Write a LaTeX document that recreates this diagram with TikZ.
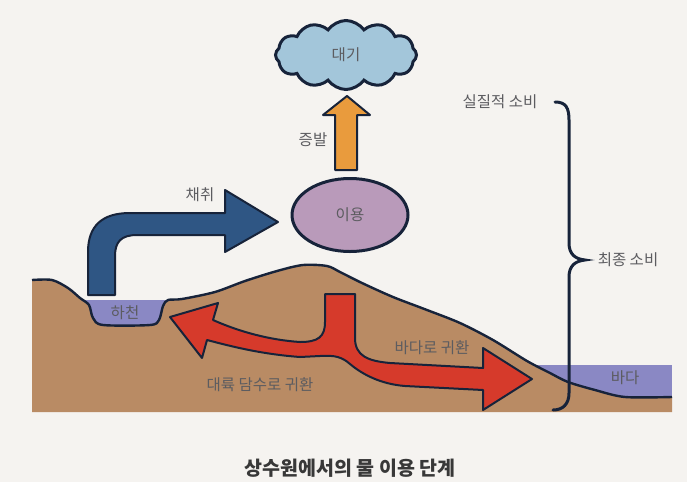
\documentclass[tikz,border=0pt]{standalone}
\usepackage{fontspec}
\setmainfont{Noto Sans CJK KR}
\usetikzlibrary{shapes.geometric,shapes.symbols}

\definecolor{paper}{HTML}{F5F3F0}
\definecolor{ink}{HTML}{17233A}
\definecolor{earth}{HTML}{B98B64}
\definecolor{water}{HTML}{8A88C4}
\definecolor{intakeblue}{HTML}{2F5684}
\definecolor{returnred}{HTML}{D63A2B}
\definecolor{vapor}{HTML}{E99B3D}
\definecolor{usemauve}{HTML}{B99ABA}
\definecolor{skyblue}{HTML}{A3C6DA}
\definecolor{labelgray}{HTML}{5C5C60}

\begin{document}
\begin{tikzpicture}[x=1pt,y=-1pt,
  edge/.style={draw=ink,line width=2pt,line join=round},
  lbl/.style={text=labelgray,font=\fontsize{15.5}{17}\selectfont},
  heavy/.style={draw=ink,line width=3pt}]
  \useasboundingbox (0,0) rectangle (687,482);
  \fill[paper] (0,0) rectangle (687,482);

  % sea and river go under the ground
  \fill[water] (530,365) rectangle (672,400);
  \fill[water] (84,300) rectangle (166,326);

  % ground
  \fill[earth] plot[smooth,tension=0.5] coordinates {(32,280) (52,280) (68,288) (80,298)
    (89,305) (93,318) (103,325) (150,325) (159,320) (163,306) (168,300) (182,299)
    (215,292) (245,281) (277,271) (303,265) (327,266) (340,272) (362,283) (393,297)
    (427,310) (460,323) (493,340) (527,361) (550,373) (568,382) (595,390) (625,397) (672,397)}
    -- (672,412) -- (32,412) -- cycle;
  \draw[ink,line width=2.4pt] plot[smooth,tension=0.5] coordinates {(32,280) (52,280) (68,288) (80,298)
    (89,305) (93,318) (103,325) (150,325) (159,320) (163,306) (168,300) (182,299)
    (215,292) (245,281) (277,271) (303,265) (327,266) (340,272) (362,283) (393,297)
    (427,310) (460,323) (493,340) (527,361) (550,373) (568,382) (595,390) (625,397) (672,397)};

  % water taken from the river
  \draw[edge,fill=intakeblue] (88,295) -- (88,252) .. controls (88,226) and (102,213) .. (130,213)
    -- (225,213) -- (225,190) -- (278,222) -- (225,252) -- (225,235) -- (137,235)
    .. controls (121,235) and (115,242) .. (115,256) -- (115,295) -- cycle;

  % water going back, split in two
  \draw[edge,fill=returnred] (325,294) -- (355,294) -- (355,338)
    .. controls (355,356) and (368,361) .. (390,363)
    -- (483,368) -- (483,348) -- (532,379) -- (483,410) -- (483,390)
    -- (405,386) .. controls (380,384) and (362,374) .. (350,364)
    .. controls (342,357) and (335,355) .. (320,356)
    -- (300,357) .. controls (260,354) and (230,346) .. (207,340)
    -- (202,358) -- (170,317) -- (218,303) -- (213,320)
    .. controls (240,332) and (270,340) .. (300,342)
    .. controls (318,342) and (325,337) .. (325,322) -- cycle;

  % evaporation
  \draw[edge,fill=vapor] (335,170) -- (335,115) -- (323,115) -- (347,96)
    -- (370,115) -- (357,115) -- (357,170) -- cycle;

  \node[heavy,ellipse,fill=usemauve,minimum width=116pt,minimum height=73pt,
    lbl] (use) at (350,215) {이용};
  \node[heavy,cloud,cloud puffs=12,cloud puff arc=110,aspect=2.1,fill=skyblue,
    minimum width=141pt,minimum height=69pt,lbl] (sky) at (346,55) {대기};

  % consumption brace
  \draw[ink,line width=3pt,line cap=round] (555,102) .. controls (566,102) and (569,108) .. (569,120)
    -- (569,243) .. controls (569,254) and (575,259) .. (585,260)
    .. controls (575,261) and (569,266) .. (569,277)
    -- (569,393) .. controls (569,404) and (563,410) .. (553,410);

  \node[lbl] (evap) at (313,140) {증발};
  \node[lbl] (take) at (200,195) {채취};
  \node[lbl] (river) at (125,313) {하천};
  \node[lbl] (tosea) at (432,348) {바다로 귀환};
  \node[lbl] (toland) at (260,385) {대륙 담수로 귀환};
  \node[lbl] (sea) at (625,378) {바다};
  \node[lbl] (real) at (500,102) {실질적 소비};
  \node[lbl] (final) at (628,260) {최종 소비};

  \node[text=black!78,font=\fontsize{19.5}{21}\selectfont\bfseries] (title) at (350,468)
    {상수원에서의 물 이용 단계};
\end{tikzpicture}
\end{document}
